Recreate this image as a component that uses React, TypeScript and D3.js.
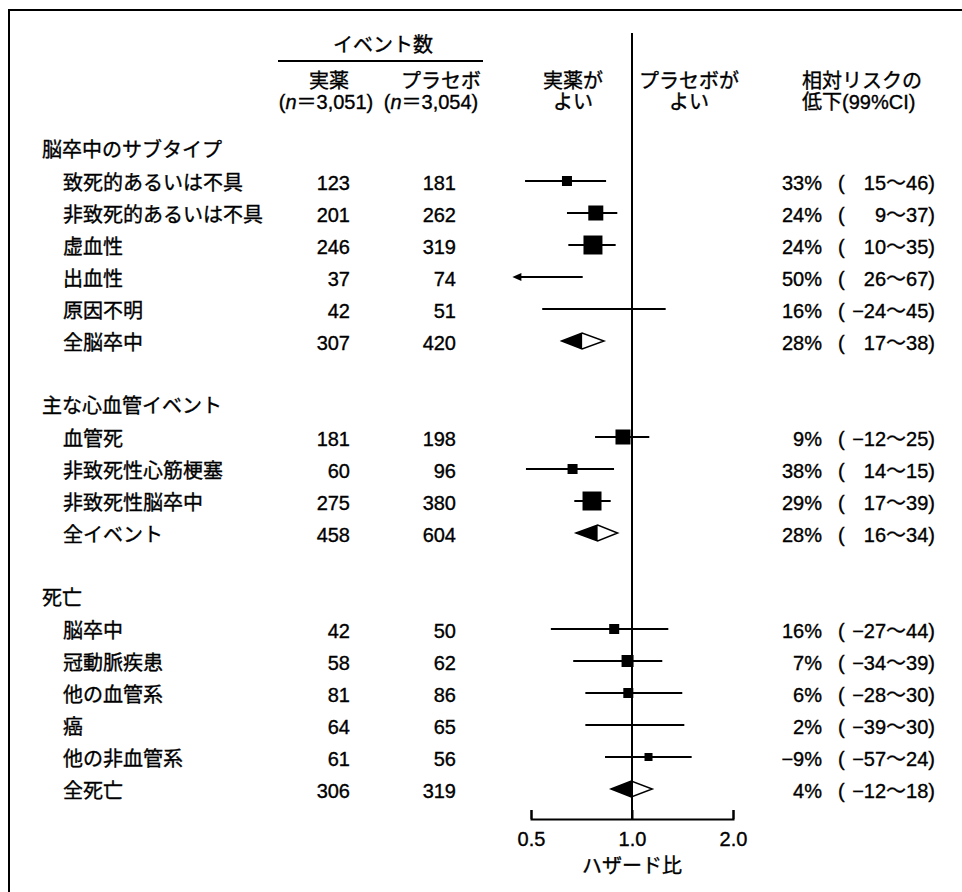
import React, { useEffect, useRef } from "react";
import * as d3 from "d3";

// ---------- data ----------
const sectionTitles = ["脳卒中のサブタイプ", "主な心血管イベント", "死亡"];
const rowLabels = [
  "致死的あるいは不具", "非致死的あるいは不具", "虚血性", "出血性", "原因不明", "全脳卒中",
  "血管死", "非致死性心筋梗塞", "非致死性脳卒中", "全イベント",
  "脳卒中", "冠動脈疾患", "他の血管系", "癌", "他の非血管系", "全死亡",
];
const rowSection = [0, 0, 0, 0, 0, 0, 1, 1, 1, 1, 2, 2, 2, 2, 2, 2];
const activeEvents = [123, 201, 246, 37, 42, 307, 181, 60, 275, 458, 42, 58, 81, 64, 61, 306];
const placeboEvents = [181, 262, 319, 74, 51, 420, 198, 96, 380, 604, 50, 62, 86, 65, 56, 319];
const hazardRatio = [0.64, 0.78, 0.765, 0.5, 0.84, 0.71, 0.94, 0.665, 0.76, 0.79, 0.885, 0.97, 0.975, 0.98, 1.12, 0.995];
const ciLower = [0.48, 0.64, 0.646, 0.33, 0.54, 0.617, 0.776, 0.483, 0.673, 0.681, 0.573, 0.668, 0.726, 0.726, 0.831, 0.866];
const ciUpper = [0.837, 0.904, 0.894, 0.713, 1.26, 0.825, 1.126, 0.884, 0.864, 0.906, 1.283, 1.231, 1.412, 1.432, 1.506, 1.149];
const isSummary = [false, false, false, false, false, true, false, false, false, true, false, false, false, false, false, true];
const boxWeight = [1.0, 2.25, 3.6, 0, 0, 0, 2.25, 1.0, 3.6, 0, 1.0, 1.44, 1.0, 0, 0.64, 0];
const rrr = [33, 24, 24, 50, 16, 28, 9, 38, 29, 28, 16, 7, 6, 2, -9, 4];
const rrrLow = [15, 9, 10, 26, -24, 17, -12, 14, 17, 16, -27, -34, -28, -39, -57, -12];
const rrrHigh = [46, 37, 35, 67, 45, 38, 25, 15, 39, 34, 44, 39, 30, 30, 24, 18];
const axisTicks = [0.5, 1.0, 2.0];
const clipMin = 0.44;
const colHeaders = { events: "イベント数", active: "実薬", placebo: "プラセボ", nActive: "3,051", nPlacebo: "3,054" };
const favourLeft = ["実薬が", "よい"];
const favourRight = ["プラセボが", "よい"];
const rrrHeader = ["相対リスクの", "低下(99%CI)"];
const axisTitle = "ハザード比";

// ---------- layout ----------
const W = 962;
const H = 892;
const FONT = "'Liberation Sans', Arial, 'Noto Sans CJK JP', sans-serif";
const FS = 20;

const x = d3.scaleLog().domain([0.5, 2]).range([531, 733]);
const yRow = d3.scaleLinear().domain([0, 20]).range([149, 789]);
const boxScale = d3.scaleSqrt().domain([0, 1]).range([0, 10]);
const axisY = 819;

// compute row slots
const headerSlot: number[] = [];
const rowSlot: number[] = [];
(() => {
  let k = 0;
  sectionTitles.forEach((_, s) => {
    headerSlot.push(k);
    k++;
    rowLabels.forEach((_, i) => {
      if (rowSection[i] === s) {
        rowSlot[i] = k;
        k++;
      }
    });
    k++;
  });
})();

const fmtNum = (v: number) => (v < 0 ? "−" + Math.abs(v) : String(v));

export default function App() {
  const axisRef = useRef<SVGGElement>(null);

  useEffect(() => {
    if (!axisRef.current) return;
    const g = d3.select(axisRef.current);
    g.selectAll("*").remove();
    g.call(
      d3
        .axisBottom(x)
        .tickValues(axisTicks)
        .tickFormat(d3.format(".1f") as any)
        .tickSizeInner(-9)
        .tickSizeOuter(-9)
        .tickPadding(13)
    );
    g.selectAll("path,line").attr("stroke", "#000").attr("stroke-width", 2);
    g.selectAll("text")
      .attr("font-size", FS)
      .attr("font-family", FONT)
      .attr("fill", "#000")
      .attr("stroke", "#000")
      .attr("stroke-width", 0.35);
  }, []);

  return (
    <svg
      width={W}
      height={H}
      style={{ position: "absolute", left: 0, top: 0, background: "#fff" }}
      fontFamily={FONT}
      fontSize={FS}
    >
      <rect x={0} y={0} width={W} height={H} fill="#fff" />
      {/* frame */}
      <line x1={8} x2={W} y1={10} y2={10} stroke="#000" strokeWidth={2} />
      <line x1={9} x2={9} y1={9} y2={H} stroke="#000" strokeWidth={2} />

      <g fill="#000" stroke="#000" strokeWidth={0.35}>
        {/* column headers */}
        <text x={383} y={45} textAnchor="middle" dominantBaseline="central">{colHeaders.events}</text>
        <text x={329} y={81} textAnchor="middle" dominantBaseline="central">{colHeaders.active}</text>
        <text x={441} y={81} textAnchor="middle" dominantBaseline="central">{colHeaders.placebo}</text>
        <text x={326} y={102} textAnchor="middle" dominantBaseline="central">
          (<tspan fontStyle="italic">n</tspan>＝{colHeaders.nActive})
        </text>
        <text x={431} y={102} textAnchor="middle" dominantBaseline="central">
          (<tspan fontStyle="italic">n</tspan>＝{colHeaders.nPlacebo})
        </text>
        {favourLeft.map((t, i) => (
          <text key={"fl" + i} x={573} y={81 + i * 21} textAnchor="middle" dominantBaseline="central">{t}</text>
        ))}
        {favourRight.map((t, i) => (
          <text key={"fr" + i} x={689} y={81 + i * 21} textAnchor="middle" dominantBaseline="central">{t}</text>
        ))}
        {rrrHeader.map((t, i) => (
          <text key={"rh" + i} x={802} y={81 + i * 21} dominantBaseline="central">{t}</text>
        ))}

        {/* section headers */}
        {sectionTitles.map((t, s) => (
          <text key={"s" + s} x={42} y={yRow(headerSlot[s]) + 1} dominantBaseline="central">{t}</text>
        ))}

        {rowLabels.map((label, i) => {
          const ty = yRow(rowSlot[i]) + 1.5;
          return (
            <g key={"t" + i}>
              <text x={63} y={ty} dominantBaseline="central">{label}</text>
              <text x={350} y={ty} textAnchor="end" dominantBaseline="central">{activeEvents[i]}</text>
              <text x={456} y={ty} textAnchor="end" dominantBaseline="central">{placeboEvents[i]}</text>
              <text x={822} y={ty} textAnchor="end" dominantBaseline="central">{fmtNum(rrr[i])}%</text>
              <text x={838} y={ty} dominantBaseline="central">(</text>
              <text x={935} y={ty} textAnchor="end" dominantBaseline="central">
                {fmtNum(rrrLow[i])}〜{fmtNum(rrrHigh[i])})
              </text>
            </g>
          );
        })}
        <text x={x(1)} y={866} textAnchor="middle" dominantBaseline="central">{axisTitle}</text>
      </g>

      <line x1={278} x2={483} y1={61} y2={61} stroke="#000" strokeWidth={2} />

      {/* reference line */}
      <line x1={x(1)} x2={x(1)} y1={33} y2={axisY} stroke="#000" strokeWidth={2} />

      {rowLabels.map((label, i) => {
        const cy = yRow(rowSlot[i]);
        const lo = ciLower[i];
        const hi = ciUpper[i];
        const hr = hazardRatio[i];
        const clipped = lo < clipMin;
        const xl = x(Math.max(lo, clipMin));
        const xh = x(hi);
        const xm = x(hr);
        const side = boxScale(boxWeight[i]);
        return (
          <g key={"m" + i}>
            {isSummary[i] ? (
              <g>
                <polygon points={`${xl},${cy} ${xm},${cy - 8} ${xm},${cy + 8}`} fill="#000" />
                <polygon
                  points={`${xl},${cy} ${xm},${cy - 8} ${xh},${cy} ${xm},${cy + 8}`}
                  fill="none"
                  stroke="#000"
                  strokeWidth={1.5}
                />
              </g>
            ) : (
              <g>
                <line x1={xl + (clipped ? 4 : 0)} x2={xh} y1={cy} y2={cy} stroke="#000" strokeWidth={2} />
                {clipped && (
                  <polygon points={`${xl},${cy} ${xl + 9},${cy - 4} ${xl + 9},${cy + 4}`} fill="#000" />
                )}
                {side > 0 && !clipped && (
                  <rect x={xm - side / 2} y={cy - side / 2} width={side} height={side} fill="#000" />
                )}
              </g>
            )}
          </g>
        );
      })}

      {/* axis */}
      <g ref={axisRef} transform={`translate(0,${axisY})`} />
    </svg>
  );
}
